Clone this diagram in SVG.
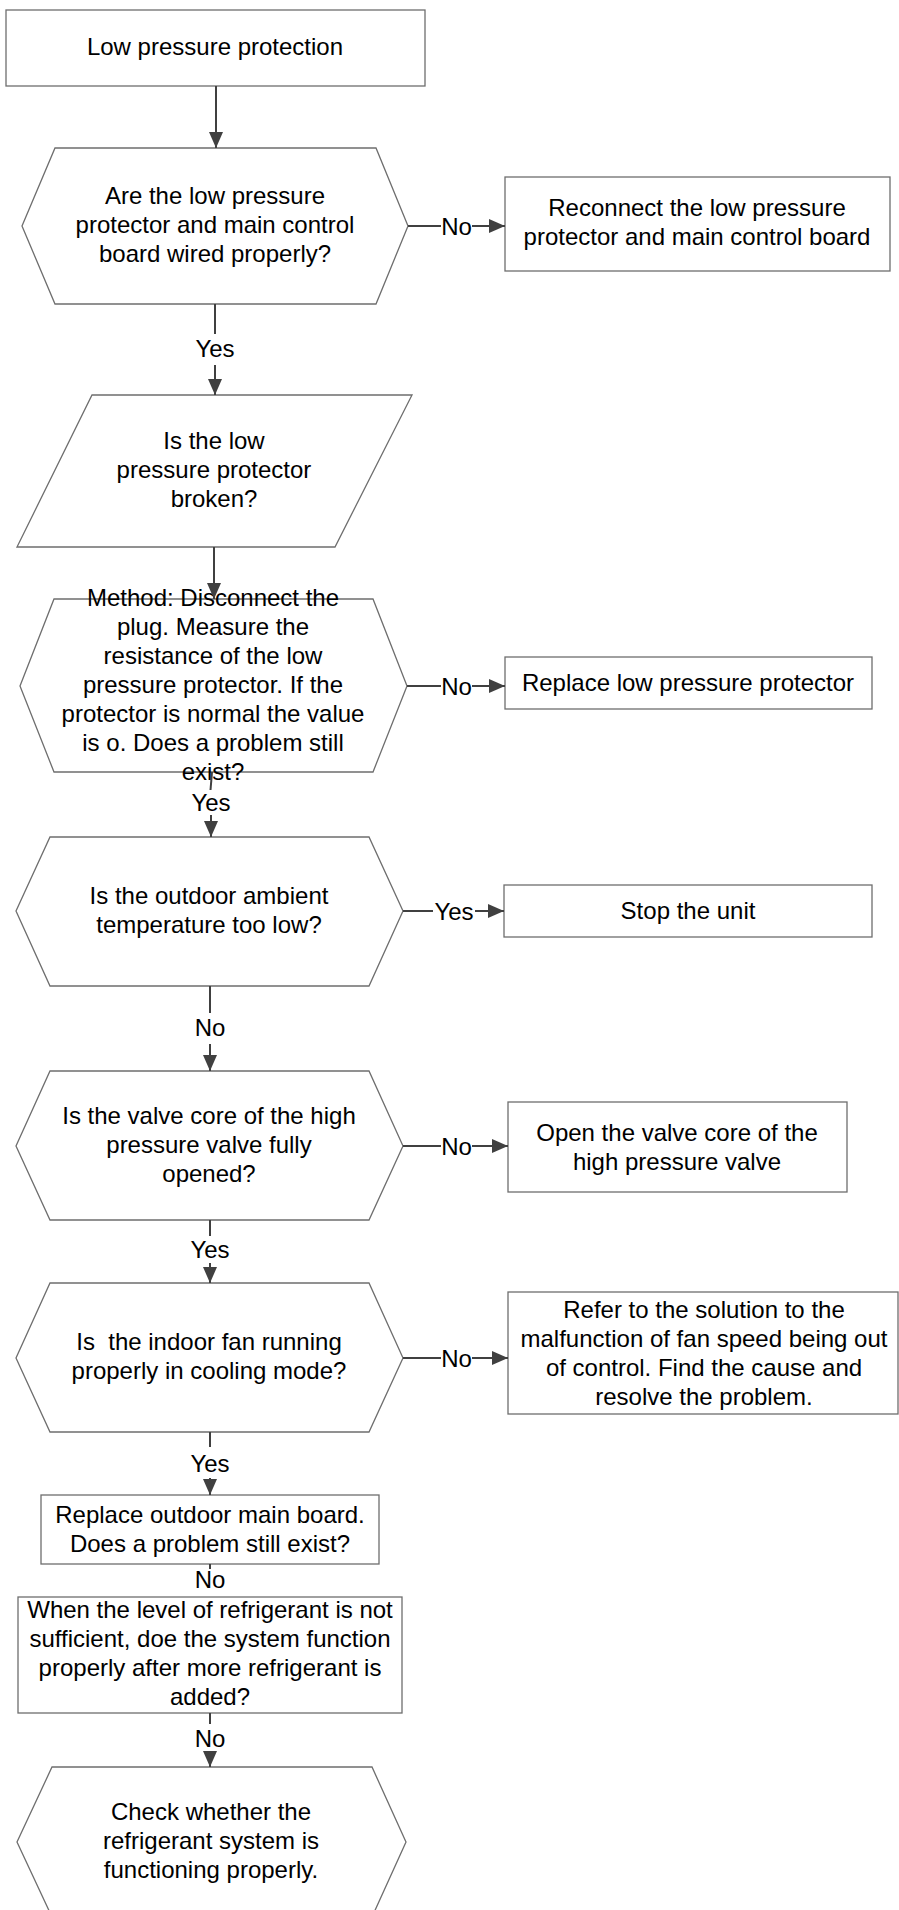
<svg xmlns="http://www.w3.org/2000/svg" width="899" height="1910" viewBox="0 0 899 1910">
<defs>
<style>
.sh{fill:#fff;stroke:#6e6e6e;stroke-width:1.3}
.t{font-family:"Liberation Sans",Arial,sans-serif;font-size:24px;fill:#000;text-anchor:middle}
.c{fill:none;stroke:#404040;stroke-width:2}
.l{font-family:"Liberation Sans",Arial,sans-serif;font-size:24px;fill:#000;text-anchor:middle}
</style>
<marker id="ah" markerUnits="userSpaceOnUse" markerWidth="17" markerHeight="15" refX="16" refY="7" orient="auto">
<path d="M0,0 L16,7 L0,14 z" fill="#404040"/>
</marker>
</defs>
<rect width="899" height="1910" fill="#fff"/>

<g id="start">
<rect class="sh" x="6" y="10" width="419" height="76"/>
<text class="t" x="215" y="55">Low pressure protection</text>
</g>

<g id="q-wired">
<polygon class="sh" points="55,148 376,148 408,226 376,304 55,304 22,226"/>
<text class="t" x="215" y="204">Are the low pressure</text>
<text class="t" x="215" y="233">protector and main control</text>
<text class="t" x="215" y="262">board wired properly?</text>
</g>

<g id="reconnect">
<rect class="sh" x="505" y="177" width="385" height="94"/>
<text class="t" x="697" y="216">Reconnect the low pressure</text>
<text class="t" x="697" y="245">protector and main control board</text>
</g>

<g id="q-broken">
<polygon class="sh" points="92,395 412,395 335,547 17,547"/>
<text class="t" x="214" y="449">Is the low</text>
<text class="t" x="214" y="478">pressure protector</text>
<text class="t" x="214" y="507">broken?</text>
</g>

<g id="q-method">
<polygon class="sh" points="54,599 373,599 407,686 373,772 54,772 20,686"/>
<text class="t" x="213" y="606">Method: Disconnect the</text>
<text class="t" x="213" y="635">plug. Measure the</text>
<text class="t" x="213" y="664">resistance of the low</text>
<text class="t" x="213" y="693">pressure protector. If the</text>
<text class="t" x="213" y="722">protector is normal the value</text>
<text class="t" x="213" y="751">is o. Does a problem still</text>
<text class="t" x="213" y="780">exist?</text>
</g>

<g id="replace-protector">
<rect class="sh" x="505" y="657" width="367" height="52"/>
<text class="t" x="688" y="691">Replace low pressure protector</text>
</g>

<g id="q-ambient">
<polygon class="sh" points="50,837 369,837 403,911 369,986 50,986 16,911"/>
<text class="t" x="209" y="904">Is the outdoor ambient</text>
<text class="t" x="209" y="933">temperature too low?</text>
</g>

<g id="stop">
<rect class="sh" x="504" y="885" width="368" height="52"/>
<text class="t" x="688" y="919">Stop the unit</text>
</g>

<g id="q-valve">
<polygon class="sh" points="50,1071 369,1071 403,1146 369,1220 50,1220 16,1146"/>
<text class="t" x="209" y="1124">Is the valve core of the high</text>
<text class="t" x="209" y="1153">pressure valve fully</text>
<text class="t" x="209" y="1182">opened?</text>
</g>

<g id="open-valve">
<rect class="sh" x="508" y="1102" width="339" height="90"/>
<text class="t" x="677" y="1141">Open the valve core of the</text>
<text class="t" x="677" y="1170">high pressure valve</text>
</g>

<g id="q-fan">
<polygon class="sh" points="50,1283 369,1283 403,1358 369,1432 50,1432 16,1358"/>
<text class="t" x="209" y="1350" style="white-space:pre">Is  the indoor fan running</text>
<text class="t" x="209" y="1379">properly in cooling mode?</text>
</g>

<g id="refer">
<rect class="sh" x="508" y="1292" width="390" height="122"/>
<text class="t" x="704" y="1318">Refer to the solution to the</text>
<text class="t" x="704" y="1347">malfunction of fan speed being out</text>
<text class="t" x="704" y="1376">of control. Find the cause and</text>
<text class="t" x="704" y="1405">resolve the problem.</text>
</g>

<g id="replace-board">
<rect class="sh" x="41" y="1495" width="338" height="69"/>
<text class="t" x="210" y="1523">Replace outdoor main board.</text>
<text class="t" x="210" y="1552">Does a problem still exist?</text>
</g>

<g id="refrigerant">
<rect class="sh" x="18" y="1597" width="384" height="116"/>
<text class="t" x="210" y="1618">When the level of refrigerant is not</text>
<text class="t" x="210" y="1647">sufficient, doe the system function</text>
<text class="t" x="210" y="1676">properly after more refrigerant is</text>
<text class="t" x="210" y="1705">added?</text>
</g>

<g id="check-system">
<polygon class="sh" points="52,1767 372,1767 406,1842 372,1917 52,1917 17,1842"/>
<text class="t" x="211" y="1820">Check whether the</text>
<text class="t" x="211" y="1849">refrigerant system is</text>
<text class="t" x="211" y="1878">functioning properly.</text>
</g>

<g id="connectors">
<path class="c" d="M216,86 V148" marker-end="url(#ah)"/>

<path class="c" d="M408,226 H441"/>
<text class="l" x="456.5" y="234.5">No</text>
<path class="c" d="M472,226 H505" marker-end="url(#ah)"/>

<path class="c" d="M215,304 V334"/>
<text class="l" x="215" y="357">Yes</text>
<path class="c" d="M215,365 V395" marker-end="url(#ah)"/>

<path class="c" d="M214,547 V599" marker-end="url(#ah)"/>

<path class="c" d="M407,686 H441"/>
<text class="l" x="456.5" y="694.5">No</text>
<path class="c" d="M472,686 H505" marker-end="url(#ah)"/>

<path class="c" d="M212,772 L210.5,790"/>
<text class="l" x="211" y="811">Yes</text>
<path class="c" d="M211,815 V837" marker-end="url(#ah)"/>

<path class="c" d="M403,911 H433"/>
<text class="l" x="454" y="919.5">Yes</text>
<path class="c" d="M475,911 H504" marker-end="url(#ah)"/>

<path class="c" d="M210,986 V1013"/>
<text class="l" x="210" y="1036">No</text>
<path class="c" d="M210,1044 V1071" marker-end="url(#ah)"/>

<path class="c" d="M403,1146 H441"/>
<text class="l" x="456.5" y="1154.5">No</text>
<path class="c" d="M472,1146 H508" marker-end="url(#ah)"/>

<path class="c" d="M210,1220 V1236"/>
<text class="l" x="210" y="1258">Yes</text>
<path class="c" d="M210,1263 V1283" marker-end="url(#ah)"/>

<path class="c" d="M403,1358 H441"/>
<text class="l" x="456.5" y="1366.5">No</text>
<path class="c" d="M472,1358 H508" marker-end="url(#ah)"/>

<path class="c" d="M210,1432 V1447"/>
<text class="l" x="210" y="1472">Yes</text>
<path class="c" d="M210,1478 V1495" marker-end="url(#ah)"/>

<path class="c" d="M210,1564 V1569"/>
<text class="l" x="210" y="1588">No</text>

<path class="c" d="M210,1713 V1724"/>
<text class="l" x="210" y="1747">No</text>
<path class="c" d="M210,1753 V1767" marker-end="url(#ah)"/>
</g>
</svg>
